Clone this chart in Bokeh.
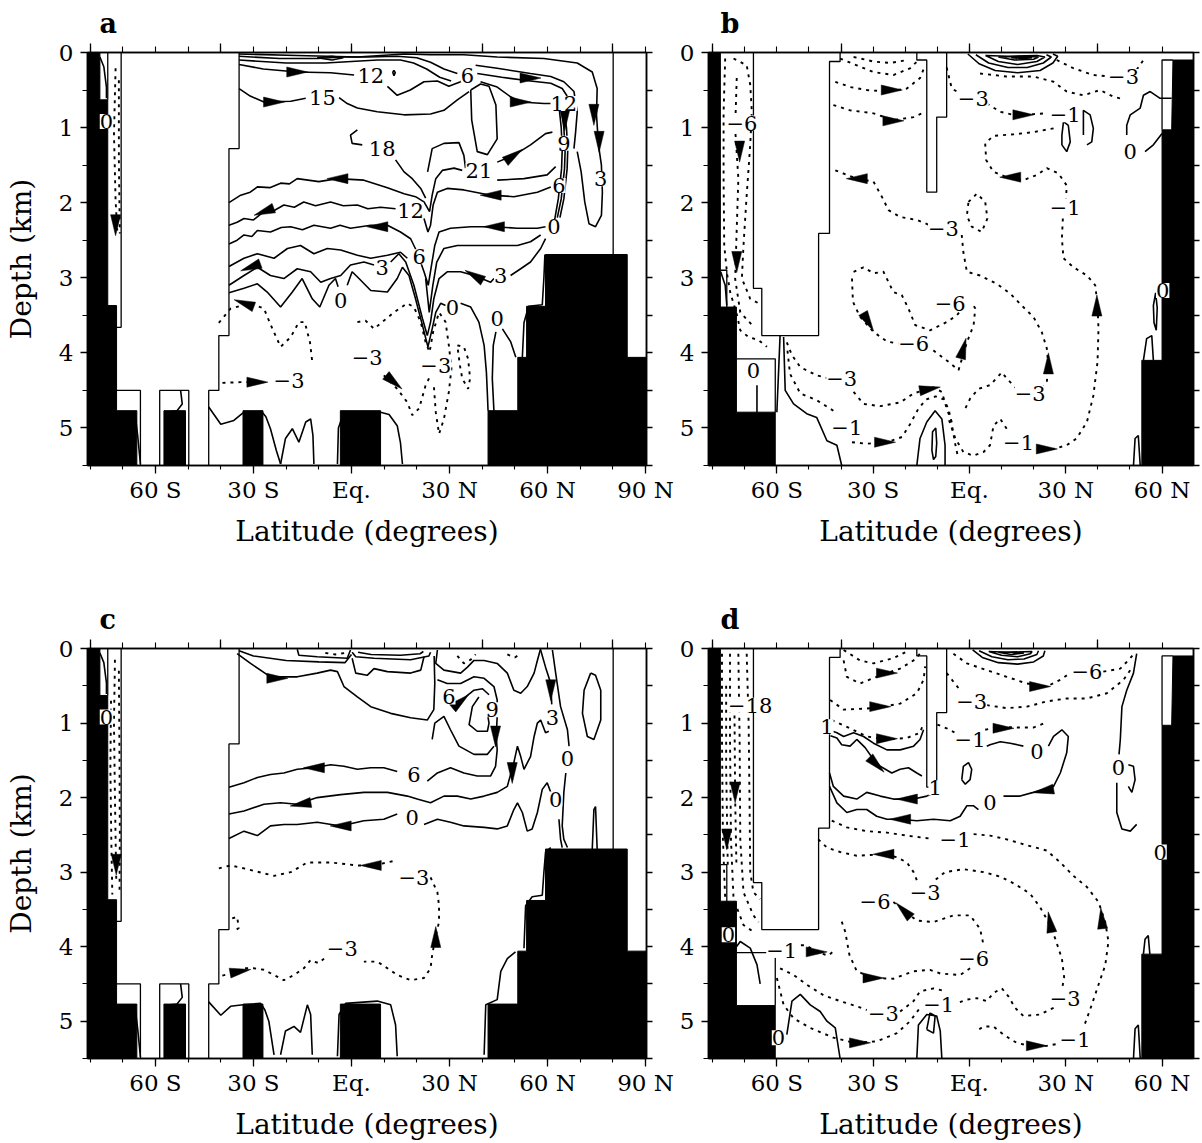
import math
from bokeh.plotting import figure
from bokeh.models import Range1d, LinearAxis, FixedTicker, ColumnDataSource, LabelSet
from bokeh.layouts import column, row
from bokeh.embed import file_html
from bokeh.resources import INLINE
from bokeh.core.properties import value

FONT = "DejaVu Serif"

# ---------------- axes ----------------
DEPTH_TICKS = [0, 1, 2, 3, 4, 5]
DEPTH_MINOR = [0.5, 1.5, 2.5, 3.5, 4.5, 5.5]
DEPTH_RIGHT = [0, 0.5, 1, 1.5, 2, 2.5, 3, 3.5, 4, 4.5, 5, 5.5]
LAT_TICKS_AC = [-60, -30, 0, 30, 60, 90]
LAT_LABELS_AC = ["60 S", "30 S", "Eq.", "30 N", "60 N", "90 N"]
LAT_TICKS_BD = [-60, -30, 0, 30, 60]
LAT_LABELS_BD = ["60 S", "30 S", "Eq.", "30 N", "60 N"]
TOP_TICKS = [-80, -40, 0, 40, 80]
LAT_MINOR = list(range(-80, 91, 10))
LAT_RANGE_AC = (-80.8, 90.3)
LAT_RANGE_BD = (-81.3, 69.8)

# ---------------- basin geometry (lat, depth km) ----------------
ATL_LAND = [
    [(-80.8, 0), (-77.0, 0), (-77.0, 0.63), (-74.6, 0.63), (-74.6, 3.37), (-71.9, 3.37), (-71.9, 4.77),
     (-65.7, 4.77), (-65.7, 5.5), (-80.8, 5.5)],
    [(-57.4, 4.77), (-50.8, 4.77), (-50.8, 5.5), (-57.4, 5.5)],
    [(-33.2, 4.77), (-27.1, 4.77), (-27.1, 5.5), (-33.2, 5.5)],
    [(-3.4, 4.77), (8.9, 4.77), (8.9, 5.5), (-3.4, 5.5)],
    [(41.8, 5.5), (41.8, 4.77), (50.9, 4.77), (50.9, 4.06), (53.6, 4.06), (53.6, 3.38), (59.4, 3.38),
     (59.4, 2.69), (84.4, 2.69), (84.4, 4.06), (90.3, 4.06), (90.3, 5.5)],
]
ATL_EDGES = [
    [(-74.6, 0), (-74.6, 0.63)],
    [(-70.5, 0), (-70.5, 3.66), (-71.9, 3.66)],
    [(-34.4, 0), (-34.4, 1.28), (-37.5, 1.28), (-37.5, 3.77), (-40.6, 3.77), (-40.6, 4.5), (-43.7, 4.5), (-43.7, 5.5)],
    [(-71.9, 4.5), (-64.6, 4.5), (-64.6, 5.5)],
    [(-58.7, 5.5), (-58.7, 4.5), (-49.8, 4.5), (-49.8, 5.5)],
    [(80.1, 0), (80.1, 2.69)],
]
PAC_LAND = [
    [(-81.3, 0), (-77.6, 0), (-77.6, 3.39), (-72.6, 3.39), (-72.6, 4.79), (-60.5, 4.79), (-60.5, 5.5), (-81.3, 5.5)],
    [(63.4, 0.1), (69.8, 0.1), (69.8, 5.5), (53.7, 5.5), (53.7, 4.1), (60.0, 4.1), (60.0, 1.03), (63.0, 1.03)],
]
PAC_EDGES = [
    [(-77.6, 2.9), (-75.6, 2.9), (-75.6, 3.39)],
    [(-67.3, 0), (-67.3, 3.14), (-64.7, 3.14), (-64.7, 3.77), (-47.0, 3.77), (-47.0, 2.41), (-43.6, 2.41),
     (-43.6, 0.12), (-40.3, 0.12), (-40.3, 0)],
    [(-72.6, 4.08), (-60.5, 4.08), (-60.5, 4.79)],
    [(-16.4, 0), (-16.4, 0.1), (-13.3, 0.1), (-13.3, 1.86), (-10.2, 1.86), (-10.2, 0.86), (-7.1, 0.86), (-7.1, 0)],
    [(60.0, 1.03), (60.0, 0.1), (63.4, 0.1)],
]

# ---------------- panel a : streamfunction contours (Sv) ----------------
A_SOLID = [
    [(-34.4, 0.02), (-16.6, 0.04), (1.8, 0.06), (16.1, 0.02), (24.2, 0.03), (34.4, 0.03), (44.6, 0.06), (58.9, 0.08),
     (69.1, 0.14), (73.7, 0.26), (75.2, 0.48), (75.0, 0.83), (75.6, 1.23), (76.5, 1.5), (76.8, 1.86), (76.5, 2.17),
     (74.7, 2.32), (72.7, 2.28), (71.4, 1.99), (70.3, 1.59), (69.1, 1.32)],
    [(-34.4, 0.05), (-22, 0.08), (-10.5, 0.08), (-3, 0.06), (5, 0.06), (14, 0.05), (20, 0.07), (24.2, 0.13),
     (28.3, 0.22), (32.4, 0.28)],
    [(38.0, 0.17), (44.6, 0.21), (54.8, 0.28), (61, 0.32), (65, 0.39), (68.1, 0.52), (69.1, 0.79), (68.6, 1.06),
     (68.1, 1.28)],
    [(-34.4, 0.1), (-20, 0.14), (-8, 0.14), (0, 0.12), (8, 0.1), (15, 0.1), (19, 0.14), (23, 0.22), (27, 0.33),
     (30.5, 0.38)],
    [(38.5, 0.28), (46, 0.33), (54.8, 0.38), (61, 0.41), (64.5, 0.48), (66, 0.58)],
    [(-34.4, 0.16), (-27, 0.22), (-16.6, 0.26), (-6.4, 0.27), (0.8, 0.3)],
    [(11, 0.45), (14, 0.57), (18, 0.5), (22.2, 0.39), (26.3, 0.38), (29.8, 0.45), (33.4, 0.39), (36, 0.32)],
    [(39.5, 0.39), (44.6, 0.46), (48.7, 0.59), (51.8, 0.66), (58.9, 0.68), (62, 0.68)],
    [(-34.4, 0.48), (-31, 0.58), (-26.8, 0.66), (-18.6, 0.65), (-14, 0.61)],
    [(-3.8, 0.6), (-1.3, 0.68), (1.8, 0.74), (7.9, 0.79), (16.1, 0.83), (24.2, 0.82), (28.3, 0.77), (32.4, 0.63),
     (36, 0.52)],
    [(36.5, 0.5), (36.8, 0.9), (38.5, 1.32), (41.6, 1.36), (44.6, 1.15), (44.2, 0.7), (42.1, 0.45), (39.5, 0.42),
     (36.5, 0.5)],
    [(1.8, 1.03), (-0.3, 1.1), (0.2, 1.21), (3.3, 1.23)],
    [(13.5, 1.43), (16.1, 1.59), (18.6, 1.68), (21.2, 1.81), (22.7, 1.94)],
    [(23.3, 1.59), (24.7, 1.28), (28.3, 1.21), (32.9, 1.2), (34.4, 1.37), (34.9, 1.54)],
    [(-37.5, 2.0), (-33.9, 1.9), (-31, 1.86), (-28.8, 1.79), (-25, 1.8), (-21.7, 1.74), (-19, 1.75), (-16.6, 1.68),
     (-10, 1.72), (-4.3, 1.68), (3.8, 1.7), (11, 1.8), (16.1, 1.88), (19.6, 1.92), (22.2, 1.99), (23.9, 2.12),
     (24.7, 1.9), (25.8, 1.68), (27.8, 1.57), (31.4, 1.54), (33.9, 1.57)],
    [(44.6, 1.7), (52.8, 1.68), (59.9, 1.63), (62.5, 1.52)],
    [(44.6, 1.46), (49.7, 1.37), (54.8, 1.23), (59.4, 1.08), (61.5, 1.06)],
    [(-37.5, 2.3), (-35, 2.26), (-32.9, 2.21), (-30, 2.23), (-26.8, 2.12), (-23.5, 2.1), (-20.7, 2.03), (-17.5, 2.06),
     (-14.6, 1.99), (-11, 2.04), (-6.4, 1.99), (-2.5, 2.04), (1.8, 2.03), (5, 2.08), (8.9, 2.06), (13.5, 2.08)],
    [(22.2, 2.21), (23.4, 2.39), (24.2, 2.3), (25, 2.03), (26.3, 1.86), (29.3, 1.81), (34.4, 1.83), (42.6, 1.9),
     (49.7, 1.92), (56.9, 1.86), (61, 1.79)],
    [(-37.5, 2.55), (-35, 2.5), (-32.9, 2.43), (-30.5, 2.45), (-28.8, 2.37), (-24.8, 2.39), (-21.5, 2.33),
     (-18.6, 2.32), (-15, 2.36), (-11.5, 2.3), (-6.4, 2.34), (-3.5, 2.3), (-0.3, 2.34), (5.9, 2.3), (11, 2.3),
     (15, 2.39), (18.1, 2.48), (20.1, 2.66), (22.2, 2.92), (23.5, 3.1), (24.5, 2.83), (25.5, 2.57), (26.8, 2.39),
     (30.3, 2.34), (36.5, 2.32), (43.6, 2.32), (50.8, 2.34), (56.9, 2.34), (59.4, 2.32)],
    [(-37.5, 2.85), (-32.9, 2.74), (-28.8, 2.68), (-23.7, 2.74), (-19.6, 2.61), (-15.6, 2.57), (-11.5, 2.68),
     (-7.4, 2.61), (-3.3, 2.63), (1.8, 2.7), (5.9, 2.74), (11, 2.7), (15, 2.66), (17.1, 2.74)],
    [(22.7, 3.01), (23.8, 3.46), (24.9, 3.1), (26.1, 2.79), (28.3, 2.61), (32.4, 2.57), (37.5, 2.57), (44.6, 2.57),
     (50.8, 2.57), (54.8, 2.52), (57.9, 2.43)],
    [(-37.5, 3.1), (-32.9, 2.97), (-28.8, 2.86), (-24.8, 2.97), (-20.7, 3.01), (-16.6, 2.88), (-12.5, 2.92),
     (-9.4, 3.06), (-6.4, 3.01), (-3.3, 2.97), (-0.3, 2.83), (3.8, 2.79), (6.9, 2.83)],
    [(12, 2.79), (14.5, 2.68), (16.6, 2.79), (19.1, 3.1), (21.7, 3.54), (23.2, 3.77), (24.2, 3.59), (25.2, 3.28),
     (26.8, 3.01), (29.3, 2.92), (33.4, 2.92), (37.5, 2.97), (42.6, 3.06), (43.6, 3.01)],
    [(48.7, 2.97), (51.8, 2.88), (54.8, 2.79), (57.9, 2.61), (59.4, 2.48)],
    [(-37.5, 3.2), (-32.9, 3.14), (-28.8, 3.08), (-25.8, 3.19), (-21.7, 3.39), (-18.1, 3.19), (-15.1, 3.01),
     (-12, 3.28), (-9.7, 3.39), (-6.9, 3.1), (-4.9, 3.01), (-4.1, 3.12)],
    [(-1.3, 3.1), (0.2, 2.92), (2.3, 3.01), (5.9, 3.17), (11, 3.19), (14, 3.01), (15.6, 2.86), (17.6, 2.97),
     (19.6, 3.28), (21.7, 3.63), (23.4, 3.92), (24.7, 3.68), (25.8, 3.46), (27.3, 3.34), (28.8, 3.37)],
    [(33.4, 3.34), (36.5, 3.39), (39, 3.59), (40.6, 3.9), (41.3, 4.26), (41.6, 4.55), (41.8, 4.77)],
    [(43.6, 4.77), (43.1, 4.34), (43.4, 3.9), (44.2, 3.72)],
    [(46.2, 3.68), (48.7, 3.85), (50.3, 4.06)],
    [(52.3, 4.06), (52.8, 3.6), (54.2, 3.38), (58.4, 3.36), (58.9, 3.0), (59.2, 2.69)],
    [(63.6, 0.75), (64.2, 1.0), (64.5, 1.3), (64.3, 1.55), (63.3, 1.95), (62.3, 2.2), (61.5, 2.35)],
    [(64.3, 0.75), (65.0, 1.0), (65.4, 1.3), (65.2, 1.55), (64.2, 1.95), (63.0, 2.2)],
    [(65.0, 0.75), (65.8, 1.0), (66.2, 1.3), (66.0, 1.55), (65.0, 1.95), (63.8, 2.2)],
    [(-10.5, 0.07), (-6, 0.05), (-2.5, 0.07), (-6, 0.1), (-10.5, 0.07)],
    [(12.6, 0.26), (13.0, 0.24), (13.4, 0.27), (13.0, 0.31), (12.6, 0.26)],
    [(-77.0, 0.06), (-75.8, 0.19), (-75.0, 0.46), (-75.0, 0.61)],
    [(-66.1, 4.86), (-65.4, 5.12), (-64.6, 5.48)],
    [(-52.3, 4.5), (-51.8, 4.68), (-53.4, 4.77), (-57.4, 4.79)],
    [(-43.7, 4.72), (-40, 4.95), (-36, 4.9), (-33.2, 4.8), (-27.5, 4.78), (-26.2, 4.85), (-24.8, 5.01), (-23, 5.3),
     (-21.7, 5.48)],
    [(-21.7, 5.48), (-20.2, 5.14), (-18.1, 5.01), (-16.1, 5.19), (-14, 4.92), (-12.5, 4.88), (-11.8, 5.1),
     (-11.5, 5.48)],
    [(-4.3, 5.48), (-4.0, 5.0), (-2.3, 4.79), (8.9, 4.79), (11.5, 4.82), (14, 4.97), (15, 5.2), (15.6, 5.48)],
]
A_DOTTED = [
    [(-72.2, 0.21), (-72.7, 1.08), (-72.2, 1.97), (-71.7, 2.37)],
    [(-71.2, 0.37), (-71.2, 1.43), (-70.9, 2.41)],
    [(-40.6, 3.6), (-37, 3.41), (-30.9, 3.34), (-26.8, 3.41), (-24.2, 3.68), (-21.7, 3.92), (-18.6, 3.79),
     (-16.1, 3.59), (-14.3, 3.59), (-12.7, 3.86), (-12, 4.12)],
    [(1.8, 3.59), (4.3, 3.57), (6.9, 3.68), (9.4, 3.59), (13, 3.46), (17.1, 3.34), (19.1, 3.39), (21.2, 3.59),
     (22.7, 3.86), (23.9, 3.99), (25, 3.72), (26.8, 3.46), (28.8, 3.59), (29.8, 3.9), (30.6, 4.21), (29.8, 4.52),
     (28.3, 4.88), (26.8, 5.08), (25.8, 4.79), (25.2, 4.43)],
    [(-39.5, 4.4), (-34, 4.39), (-27.2, 4.39)],
    [(9.9, 4.3), (14, 4.48), (17.1, 4.66), (18.6, 4.83), (20.7, 4.74), (22.7, 4.43), (24.2, 4.3)],
    [(32.4, 3.9), (34.4, 3.92), (35.7, 4.08), (36.3, 4.34), (35.7, 4.48), (33.9, 4.34), (33.2, 4.17), (32.4, 3.9)],
]
A_LABELS = [
    ("12", 5.9, 0.3), ("15", -8.9, 0.6), ("18", 9.4, 1.28), ("21", 39, 1.57), ("6", 35.5, 0.3), ("12", 65, 0.68),
    ("9", 65, 1.21), ("6", 63.5, 1.77), ("0", 62, 2.32), ("3", 76.3, 1.68), ("12", 18.1, 2.1), ("6", 20.7, 2.72),
    ("3", 9.4, 2.86), ("3", 45.7, 2.97), ("0", -3.3, 3.3), ("0", 30.9, 3.39), ("0", 44.6, 3.54),
    ("\u22123", 4.8, 4.06), ("\u22123", 25.8, 4.17), ("\u22123", -19.1, 4.37), ("0", -75.0, 0.92),
]
A_ARROWS = [  # lat, depth, heading (deg, 0 = northward/right, 90 = upward)
    (-16.6, 0.26, 0), (-23.7, 0.66, 0), (54.8, 0.34, 0), (51.8, 0.66, 0), (65.3, 0.9, 270), (74.2, 0.83, 270),
    (75.8, 1.19, 270), (49.7, 1.37, 35), (-4.3, 1.68, 180), (-26.8, 2.12, 200), (7.9, 2.32, 180),
    (42.6, 1.9, 180), (43.6, 2.32, 180), (-30.9, 2.86, 200), (37.5, 2.97, 150), (-32.9, 3.34, 160),
    (-28.8, 4.39, 0), (13, 4.39, 320), (-72.2, 2.3, 270),
]

# ---------------- panel b ----------------
B_SOLID = [
    [(-0.5, 0.02), (3, 0.15), (8, 0.24), (15, 0.27), (22, 0.24), (26, 0.14), (27.5, 0.05), (26, 0.02)],
    [(2, 0.03), (6, 0.14), (12, 0.2), (18, 0.2), (23, 0.14), (25.5, 0.06), (24, 0.03)],
    [(5, 0.04), (9, 0.12), (15, 0.16), (21, 0.12), (23.5, 0.06), (21, 0.04), (12, 0.05), (5, 0.04)],
    [(9, 0.06), (14, 0.1), (20, 0.09), (21.5, 0.06), (17, 0.05), (9, 0.06)],
    [(13, 0.07), (17, 0.08), (19.5, 0.07), (16, 0.065), (13, 0.07)],
    [(-57.9, 3.79), (-57.4, 4.5), (-54.8, 4.68), (-50.7, 4.81), (-47.6, 4.86), (-44.4, 5.17), (-41.3, 5.23),
     (-39.8, 5.5)],
    [(-59.0, 3.77), (-60.0, 4.79)],
    [(-16.4, 5.5), (-15.4, 5.14), (-13.3, 4.92), (-10.7, 4.77), (-8.6, 4.88), (-7.6, 5.23), (-7.6, 5.5)],
    [(-11.7, 5.3), (-11.5, 5.05), (-10.5, 5.0), (-10.2, 5.2), (-10.5, 5.38), (-11.2, 5.42), (-11.7, 5.3)],
    [(63.0, 0.61), (59.4, 0.61), (56.3, 0.52), (54.2, 0.57), (53.2, 0.74), (50.1, 0.83), (49.0, 0.97), (49.0, 1.1)],
    [(54.7, 1.32), (57.3, 1.23), (60.0, 1.08)],
    [(28.8, 1.1), (29.3, 0.92), (30.8, 0.97), (31.4, 1.19), (30.3, 1.32), (28.8, 1.23), (28.8, 1.1)],
    [(35.5, 1.1), (35.5, 0.77), (37.6, 0.83), (38.6, 1.01), (38.1, 1.19), (36.6, 1.23)],
    [(57.3, 3.37), (57.5, 3.6), (58.2, 3.7), (58.5, 3.4), (58.0, 3.2), (57.3, 3.37)],
    [(54.2, 4.1), (55.2, 3.81), (56.8, 3.77), (57.3, 4.1)],
    [(51.1, 5.5), (51.6, 5.14), (52.6, 5.1), (53.2, 5.5)],
    [(-66.2, 4.43), (-66.2, 4.79)],
    [(-77.5, 2.92), (-76.1, 3.1), (-75.6, 3.37)],
]
B_DOTTED = [
    [(-76.1, 0.08), (-76.6, 0.79), (-76.6, 1.68), (-76.4, 2.57), (-75.5, 2.95), (-74.5, 3.2), (-72.4, 3.5),
     (-71.4, 3.7), (-68.8, 3.79), (-65.7, 3.83), (-63.1, 3.92)],
    [(-73.5, 0.08), (-69.4, 0.17), (-68.3, 0.43), (-67.8, 0.79), (-68.3, 1.23), (-69.4, 1.9), (-70.4, 2.57),
     (-70.9, 3.01), (-68.3, 3.28), (-65.7, 3.34)],
    [(-72.5, 0.34), (-73, 1.01), (-72, 1.68), (-72.5, 2.34), (-73, 3.01), (-71.4, 3.46), (-67.3, 3.65)],
    [(-41.8, 0.39), (-37.2, 0.46), (-32, 0.5), (-25.7, 0.52), (-19.5, 0.48), (-15.4, 0.34), (-13.8, 0.17)],
    [(-42.4, 0.7), (-37.2, 0.77), (-29.9, 0.81), (-23.7, 0.9), (-17.4, 0.86), (-13.8, 0.79)],
    [(-40.3, 0.08), (-35.1, 0.17), (-29.9, 0.26), (-23.7, 0.3), (-18.5, 0.21), (-15.4, 0.08)],
    [(-36.1, 0.06), (-29.9, 0.12), (-24.7, 0.14), (-19.5, 0.1)],
    [(3.3, 0.28), (11.6, 0.32), (19.9, 0.32), (26.2, 0.39), (30.3, 0.52), (35.5, 0.57), (40.7, 0.5), (44.9, 0.59),
     (46.9, 0.61)],
    [(27.2, 0.1), (32.4, 0.21), (38.6, 0.3), (43.8, 0.32)],
    [(52.1, 0.23), (54.2, 0.1)],
    [(-7.1, 0.2), (-5.5, 0.48), (-1.9, 0.57)],
    [(5.4, 0.68), (9.6, 0.79), (14.7, 0.84), (19.9, 0.82), (24.1, 0.81)],
    [(26.2, 1.01), (19.9, 1.06), (13.7, 1.09), (7.5, 1.11), (4.9, 1.21), (5.2, 1.43), (7.5, 1.59), (11.6, 1.66),
     (16.8, 1.7), (21, 1.63), (24.1, 1.54), (27.7, 1.61), (30.3, 1.77), (30.1, 1.94)],
    [(29.1, 2.21), (28.8, 2.48), (29.3, 2.74), (32.4, 2.86), (36.6, 2.97), (39.2, 3.1), (39.9, 3.37), (40.2, 3.68),
     (39.9, 4.12), (38.6, 4.57), (36.6, 4.92), (33.4, 5.14), (30.3, 5.23), (26.2, 5.28), (21, 5.28)],
    [(11.6, 5.01), (9.6, 4.88), (7.5, 4.97), (6.4, 5.23), (4.4, 5.32), (1.2, 5.37), (-1.9, 5.32), (-4.4, 5.14),
     (-6.5, 4.88)],
    [(-41.8, 1.57), (-35.1, 1.68), (-29.9, 1.72), (-27.3, 1.92), (-25.2, 2.1), (-21.6, 2.19), (-16.4, 2.23),
     (-12.3, 2.3)],
    [(-2.4, 2.43), (-1.9, 2.66), (-0.8, 2.92), (3.3, 2.97), (8.5, 3.08), (12.7, 3.21), (16.3, 3.37), (19.9, 3.52),
     (22.5, 3.72), (24.1, 3.94), (24.6, 4.17), (24.1, 4.39), (22, 4.52)],
    [(14.7, 4.48), (11.6, 4.34), (10.1, 4.26), (6.4, 4.43), (2.8, 4.48), (0.2, 4.61), (-1.3, 4.74)],
    [(-0.3, 1.99), (2.3, 1.88), (4.9, 1.99), (5.6, 2.21), (3.8, 2.39), (0.7, 2.32), (-0.8, 2.17), (-0.3, 1.99)],
    [(-36.6, 3.01), (-36.3, 3.32), (-34.1, 3.52), (-29.9, 3.72), (-25.7, 3.85), (-21.5, 3.88)],
    [(-13.5, 3.92), (-11.2, 3.97), (-6.5, 4.12), (-3.4, 4.23), (-0.8, 3.86), (1.3, 3.63), (1.8, 3.41), (0.7, 3.32)],
    [(-36.1, 2.92), (-33, 2.86), (-29.9, 2.94), (-26.8, 2.92), (-23.7, 3.19), (-21.1, 3.23), (-19, 3.41),
     (-16.9, 3.63), (-12.3, 3.7), (-7.1, 3.59), (-3.9, 3.5), (-2.5, 3.42)],
    [(-56.9, 3.86), (-55.3, 4.03), (-52.7, 4.19), (-47.6, 4.3), (-43.9, 4.34)],
    [(-36.1, 4.52), (-33, 4.68), (-27.8, 4.71), (-21.6, 4.66), (-17.4, 4.54), (-11.2, 4.46), (-8.6, 4.52),
     (-7.1, 4.74), (-5.5, 4.92)],
    [(-36.6, 5.19), (-32, 5.21), (-25.7, 5.19), (-21, 5.12), (-18.5, 4.95), (-16, 4.75), (-13.5, 4.62),
     (-10.5, 4.58), (-8, 4.62), (-6.5, 4.75), (-5.5, 4.95), (-4.5, 5.2), (-3.5, 5.4)],
    [(-56.7, 3.97), (-55.9, 4.28), (-52.7, 4.54), (-47.6, 4.63), (-42.4, 4.77)],
]
B_LABELS = [
    ("\u22126", -70.9, 0.94), ("\u22123", 1.2, 0.61), ("\u22123", 48, 0.32), ("\u22121", 29.8, 0.83),
    ("0", 50.1, 1.32), ("\u22121", 29.8, 2.06), ("\u22123", -8.1, 2.34), ("\u22126", -6, 3.34),
    ("\u22126", -17.4, 3.88), ("0", 60.2, 3.17), ("0", -67.3, 4.23), ("\u22123", -39.8, 4.34),
    ("\u22123", 18.9, 4.54), ("\u22121", -38.2, 4.99), ("\u22121", 15.3, 5.19),
]
B_ARROWS = [
    (-71.6, 1.32, 270), (-72.5, 2.79, 270), (-24.2, 0.5, 0), (-23.7, 0.91, 0), (-35.1, 1.68, 180),
    (16.8, 0.83, 0), (12.7, 1.66, 180), (-31.5, 3.59, 300), (-1.9, 3.94, 75), (24.6, 4.14, 90),
    (39.7, 3.37, 90), (-12.3, 4.48, 10), (-26.3, 5.19, 0), (24.1, 5.28, 0),
]

# ---------------- panel c ----------------
C_SOLID = [
    [(-35, 0.07), (-30.9, 0.2), (-24.8, 0.38), (-16.6, 0.38), (-10.5, 0.33), (-6.4, 0.29), (-4.3, 0.31),
     (-2.3, 0.51), (1.8, 0.65), (5.9, 0.78), (12, 0.87), (18.1, 0.93), (23.2, 0.96), (25.2, 0.82), (25.5, 0.47),
     (25.3, 0.1)],
    [(-34.4, 0.03), (-30, 0.1), (-20, 0.16), (-10, 0.18), (-2, 0.19), (0, 0.08)],
    [(-16.6, 0.01), (-16.1, 0.09), (-10.5, 0.11), (-1.3, 0.13), (-0.3, 0.02)],
    [(0.2, 0.05), (1.3, 0.11), (6.9, 0.13), (18.1, 0.15), (23.7, 0.1), (24.2, 0.05)],
    [(0.2, 0.13), (1.3, 0.33), (4.8, 0.36), (6.9, 0.27), (11, 0.31), (18.1, 0.33), (21.2, 0.29), (22.2, 0.11)],
    [(2, 0.05), (6, 0.08), (15, 0.09), (21, 0.07), (22, 0.04)],
    [(26.3, 0.02), (25.8, 0.2), (28.3, 0.29), (33.4, 0.33), (35.5, 0.25), (37.5, 0.16), (40.6, 0.16), (44.6, 0.2),
     (47.7, 0.33), (49.7, 0.56), (51.8, 0.6), (53.8, 0.51), (55.9, 0.33), (56.9, 0.16), (57.9, 0.0)],
    [(-37.5, 1.86), (-32.9, 1.8), (-28.8, 1.73), (-24.8, 1.69), (-20.7, 1.67), (-16.6, 1.62), (-11.5, 1.6),
     (-6.4, 1.56), (-2.3, 1.58), (1.8, 1.62), (5.9, 1.6), (9.9, 1.6), (14, 1.65)],
    [(23.2, 1.78), (26.3, 1.67), (30.3, 1.6), (34.4, 1.67), (38.5, 1.71), (42.6, 1.71), (44.1, 1.58), (44.6, 1.36),
     (44.3, 1.18), (44.6, 0.91), (44.6, 0.69), (43.6, 0.51), (40.6, 0.4), (37.5, 0.38), (33.4, 0.47), (29.3, 0.47),
     (26.3, 0.42)],
    [(31.4, 0.78), (33.4, 0.71), (35.5, 0.63), (37.5, 0.56), (40.1, 0.54), (42.1, 0.62)],
    [(24.7, 1.22), (25.5, 1.0), (28.3, 0.91), (30.3, 1.09), (32.9, 1.31), (37.5, 1.42), (41.6, 1.42), (43.6, 1.31)],
    [(39.0, 0.65), (37.0, 0.78), (36.0, 1.02), (38.5, 1.11), (41.6, 1.11), (42.1, 1.0), (41.6, 0.87)],
    [(-37.5, 2.22), (-32.9, 2.18), (-26.8, 2.09), (-21.7, 2.07), (-16.6, 2.09), (-10.5, 2.0), (-3.3, 1.96),
     (3.8, 1.93), (11, 1.93), (17.1, 1.98), (20.1, 2.02), (24.2, 2.07), (28.3, 1.98), (32.4, 1.98), (36.5, 2.02),
     (40.6, 1.98), (44.6, 1.93), (47.7, 1.85), (49.7, 1.53), (50.8, 1.31), (51.8, 1.45), (52.8, 1.62),
     (54.8, 1.45), (55.9, 1.18), (56.9, 1.0), (57.9, 0.96), (59.4, 1.13), (60.4, 1.11)],
    [(61.3, 0.75), (61, 0.47), (59.4, 0.25), (57.9, 0.02)],
    [(-37.5, 2.55), (-32.9, 2.45), (-28.8, 2.51), (-24.8, 2.38), (-20.7, 2.36), (-16.6, 2.36), (-10.5, 2.33),
     (-3.3, 2.38), (3.8, 2.31), (9.9, 2.29), (14, 2.22)],
    [(22.2, 2.36), (26.3, 2.29), (30.3, 2.33), (34.4, 2.38), (40.6, 2.4), (44.6, 2.42), (47.7, 2.38), (49.7, 2.16),
     (50.8, 2.07), (52.3, 2.2), (53.8, 2.45), (55.3, 2.42), (56.9, 2.2), (58.4, 1.89), (59.9, 1.8), (61, 1.93)],
    [(63.5, 2.29), (64, 2.56), (64.5, 2.67)],
    [(61.5, 0.02), (62.5, 0.33), (64, 0.78), (66.1, 1.09), (66.6, 1.31)],
    [(65.6, 1.67), (65, 1.93), (64.5, 2.38), (65, 2.56), (66.1, 2.67)],
    [(73.2, 0.33), (71.2, 0.56), (70.7, 0.87), (72.2, 1.18), (74.2, 1.22), (76.3, 0.96), (76.3, 0.56), (74.7, 0.36),
     (73.2, 0.33)],
    [(73.7, 2.69), (74.2, 2.16), (74.7, 2.12), (75.2, 2.69)],
    [(40.6, 5.45), (41.1, 4.78), (44.6, 4.71), (45.7, 4.33), (47.7, 4.16), (50.2, 4.07)],
    [(52.8, 4.02), (53.3, 3.45), (55.3, 3.33), (58.4, 3.31), (58.9, 3.0), (59.4, 2.73), (61, 2.67)],
    [(-77.0, 0.06), (-75.8, 0.19), (-75.0, 0.46), (-75.0, 0.61)],
    [(-66.1, 4.86), (-65.4, 5.12), (-64.6, 5.48)],
    [(-52.3, 4.5), (-51.8, 4.68), (-53.4, 4.77), (-57.4, 4.79)],
    [(-43.7, 4.74), (-40, 4.92), (-37, 4.8), (-33.2, 4.78), (-27.8, 4.76), (-26.5, 4.85), (-25.3, 5.0),
     (-23.7, 5.45)],
    [(-21.7, 5.45), (-20.2, 5.13), (-17.6, 5.07), (-15.6, 5.15), (-13.5, 4.78), (-12.5, 4.91), (-12, 5.45)],
    [(-4.3, 5.47), (-3.8, 4.91), (-1.8, 4.76), (7.9, 4.73), (12, 4.78), (13.5, 5.05), (14, 5.47)],
]
C_DOTTED = [
    [(-72.4, 0.15), (-72.7, 1.0), (-72.4, 2.0), (-72.0, 3.1)],
    [(-71.2, 0.3), (-71.0, 1.5), (-70.9, 2.5), (-71.0, 3.3)],
    [(-73.6, 0.7), (-73.8, 1.6), (-73.5, 2.6), (-73.2, 3.3)],
    [(-40.6, 2.95), (-37, 2.91), (-31.9, 2.96), (-23.7, 3.05), (-18.6, 3.0), (-13.5, 2.87), (-6.4, 2.87),
     (1.8, 2.91), (6.9, 2.91), (13, 2.85)],
    [(24.2, 3.07), (26.3, 3.27), (26.8, 3.45), (26.8, 3.67), (25.8, 3.85), (24.7, 4.11), (24.2, 4.29), (22.2, 4.42),
     (18.1, 4.45), (14, 4.38), (11, 4.29), (7.9, 4.2), (3.8, 4.2)],
    [(-8.4, 4.16), (-10, 4.22), (-11.5, 4.2), (-12.5, 4.18), (-14.6, 4.29), (-17.6, 4.38), (-20.7, 4.45),
     (-23.7, 4.38), (-26.8, 4.31), (-29.9, 4.29), (-32.9, 4.29), (-37, 4.36), (-40.6, 4.4)],
    [(-36.5, 3.62), (-35, 3.6), (-34.5, 3.75), (-36, 3.8)],
    [(32.4, 0.1), (34.4, 0.2), (36.5, 0.15), (38, 0.08)],
    [(47.7, 0.08), (50, 0.12), (51.5, 0.08)],
    [(-8, 0.06), (-5, 0.08), (-2, 0.06)],
]
C_LABELS = [
    ("6", 29.8, 0.65), ("9", 43.1, 0.82), ("3", 61.5, 0.93), ("0", 66.1, 1.47), ("6", 19.1, 1.69),
    ("0", 62.5, 2.02), ("0", 18.6, 2.27), ("\u22123", 19.1, 3.07), ("\u22123", -2.8, 4.02), ("0", -75.0, 0.92),
]
C_ARROWS = [
    (-22.7, 0.4, 0), (33.4, 0.71, 40), (61, 0.56, 270), (44.1, 1.18, 270), (49.2, 1.67, 270),
    (-11.5, 1.6, 180), (-15.6, 2.09, 190), (-3.3, 2.38, 180), (5.9, 2.91, 180), (25.8, 3.87, 90),
    (-34, 4.33, 10), (-72.0, 2.9, 270),
]

# ---------------- panel d ----------------
D_SOLID = [
    [(1, 0.02), (4, 0.12), (9, 0.19), (15, 0.21), (20, 0.18), (23, 0.1), (23.5, 0.03)],
    [(3, 0.03), (7, 0.11), (12, 0.15), (17, 0.14), (21, 0.08), (21.5, 0.03)],
    [(6, 0.04), (10, 0.09), (15, 0.11), (19, 0.07), (19.5, 0.04), (12, 0.05), (6, 0.04)],
    [(9, 0.05), (13, 0.08), (17, 0.06), (13, 0.05), (9, 0.05)],
    [(-43.3, 1.1), (-41.3, 1.13), (-39.2, 1.18), (-36.1, 1.13), (-33, 1.18), (-29.9, 1.27), (-25.7, 1.36),
     (-21.6, 1.36), (-17.4, 1.31), (-15.4, 1.22), (-14.3, 1.09)],
    [(-43.3, 1.17), (-41.3, 1.2), (-39.8, 1.29), (-37.2, 1.31), (-35.1, 1.22), (-32.5, 1.33), (-29.9, 1.49),
     (-27.8, 1.58), (-24.2, 1.67), (-21.6, 1.62), (-19, 1.6), (-16.4, 1.67), (-14.8, 1.71)],
    [(-43.6, 1.67), (-42.4, 1.85), (-39.2, 1.98), (-35.1, 2.02), (-32, 1.93), (-27.8, 1.98), (-23.7, 2.02),
     (-17.4, 2.02), (-13.3, 1.98), (-11.5, 1.95)],
    [(-43.6, 1.85), (-41.3, 2.07), (-38.2, 2.2), (-35.1, 2.16), (-32, 2.16), (-28.9, 2.25), (-25.7, 2.29),
     (-21.6, 2.29), (-16.4, 2.31), (-11.2, 2.29), (-6, 2.31), (-2.9, 2.25), (-0.8, 2.11), (1.3, 2.11), (2.8, 2.16)],
    [(10.6, 1.98), (15.8, 1.98), (19.9, 1.93), (26.2, 1.85), (28.3, 1.67), (30.3, 1.4), (30.8, 1.18), (28.8, 1.09),
     (26.2, 1.18), (24.6, 1.31)],
    [(16.8, 1.31), (12.7, 1.27), (9.6, 1.25), (6.4, 1.29), (5.4, 1.31)],
    [(-2.4, 1.76), (-1.9, 1.58), (-0.3, 1.53), (0.7, 1.62), (0.2, 1.76), (-1.3, 1.82), (-2.4, 1.76)],
    [(52.1, 0.07), (51.1, 0.33), (49, 0.56), (47.5, 0.78), (47, 1.22), (46.6, 1.42)],
    [(45.9, 1.8), (45.9, 2.2), (47.5, 2.42), (50.1, 2.45), (52.1, 2.36)],
    [(49.5, 1.56), (51.1, 1.58), (51.6, 1.76), (50.6, 1.93), (49.5, 1.85)],
    [(-56.9, 5.18), (-55.3, 4.73), (-52.7, 4.64), (-49.6, 4.78), (-46.5, 4.87), (-44.4, 5.0), (-41.8, 5.09),
     (-40.3, 5.5)],
    [(-16.4, 5.5), (-15.9, 5.05), (-13.3, 4.91), (-10.2, 4.93), (-9.1, 5.13), (-8.6, 5.5)],
    [(-13.3, 5.11), (-12.3, 4.89), (-10.7, 4.93), (-11.2, 5.16), (-13.3, 5.11)],
    [(54.2, 4.1), (54.7, 3.9), (55.7, 3.85), (56.2, 4.1)],
    [(51.1, 5.5), (51.6, 5.1), (52.6, 5.05), (53.2, 5.5)],
    [(-72.6, 4.0), (-71.4, 3.93), (-68.3, 4.02), (-66.2, 4.24), (-65.2, 4.5)],
]
D_DOTTED = [
    [(-77.1, 0.07), (-77.1, 1.22), (-76.8, 2.56), (-76.1, 3.36), (-74.6, 3.67)],
    [(-74.6, 0.07), (-74.6, 1.22), (-74.3, 2.56), (-73.5, 3.36), (-70.4, 3.71), (-67.3, 3.8)],
    [(-72.0, 0.07), (-71.6, 1.22), (-71.4, 2.56), (-70.4, 3.27), (-67.3, 3.58), (-65.7, 3.67)],
    [(-69.4, 0.07), (-68.8, 1.0), (-68.5, 2.11), (-68.3, 3.0), (-67.3, 3.27), (-65.2, 3.36)],
    [(-73.2, 0.9), (-73.0, 2.0), (-72.6, 2.9)],
    [(-75.8, 0.5), (-75.8, 1.6), (-75.3, 2.9)],
    [(-39.2, 0.16), (-38.2, 0.38), (-34.1, 0.47), (-28.9, 0.38), (-25.7, 0.33), (-21.6, 0.27), (-17.4, 0.16),
     (-15.4, 0.07)],
    [(-43.4, 0.69), (-39.2, 0.82), (-29.9, 0.8), (-21.6, 0.74), (-16.4, 0.6), (-14.3, 0.42), (-13.8, 0.24)],
    [(-42.9, 0.96), (-38.2, 1.05), (-32, 1.18), (-25.7, 1.22), (-19.5, 1.2), (-15.4, 1.13), (-14.3, 1.0)],
    [(-39.2, 0.02), (-34.1, 0.16), (-29.9, 0.2), (-23.7, 0.13), (-19.5, 0.04)],
    [(-5, 0.07), (-0.8, 0.2), (5.4, 0.29), (11.6, 0.38), (17.9, 0.47), (24.1, 0.51), (28.3, 0.42), (31.4, 0.33)],
    [(41.7, 0.31), (47, 0.27), (50.1, 0.13), (51.6, 0.05)],
    [(-7.1, 0.33), (-2.9, 0.56)],
    [(5.4, 0.76), (11.6, 0.8), (17.9, 0.78), (24.1, 0.71), (30.3, 0.67), (36.6, 0.67), (42.8, 0.6), (48, 0.42),
     (50.1, 0.29)],
    [(4.9, 1.09), (9.6, 1.05), (14.8, 1.06), (19.9, 1.06), (23.5, 1.0)],
    [(-10, 1.02), (-7.1, 1.07), (-4.5, 1.13)],
    [(-47.1, 2.56), (-44.4, 2.67), (-40.3, 2.73), (-35.1, 2.78), (-30.9, 2.77), (-26.8, 2.76), (-22.6, 2.8),
     (-19.5, 2.87), (-17.4, 3.0), (-16, 3.15)],
    [(-10.5, 3.1), (-7.6, 3.0), (-1.9, 2.96), (4.4, 3.0), (9.6, 3.06), (14.2, 3.16), (18.9, 3.29), (22, 3.47),
     (24.6, 3.67), (26.7, 3.89), (28.8, 4.16), (29.5, 4.41), (28.8, 4.58)],
    [(26.2, 4.82), (22, 4.91), (16.8, 4.93), (14.2, 4.82), (12.2, 4.67), (10.1, 4.56), (7.5, 4.62), (5.4, 4.73),
     (2.3, 4.69), (-0.8, 4.71), (-3.9, 4.76)],
    [(-42.9, 2.31), (-38.2, 2.4), (-32, 2.45), (-25.7, 2.47), (-19.5, 2.51), (-12.3, 2.55)],
    [(1.3, 2.49), (6.4, 2.51), (11.6, 2.56), (17.9, 2.64), (24.1, 2.71), (28.3, 2.87), (32.4, 3.05), (36.6, 3.2),
     (40.2, 3.4), (42.3, 3.67), (43.3, 3.93), (42.3, 4.25), (40.2, 4.51), (38.1, 4.78), (36.6, 4.96), (35.5, 5.09)],
    [(29.3, 5.29), (24.1, 5.33), (18.9, 5.33), (14.7, 5.29), (10.6, 5.18), (7.5, 5.07), (4.4, 5.07), (2.3, 5.13)],
    [(-23.7, 3.4), (-20.6, 3.51), (-16.4, 3.65), (-11.2, 3.67), (-5, 3.58), (0.2, 3.58), (3.3, 3.76), (4.4, 3.98)],
    [(0.2, 4.29), (-2.9, 4.38), (-9.1, 4.36), (-12.3, 4.31), (-17.4, 4.33), (-23.7, 4.43), (-29.9, 4.42),
     (-35.1, 4.33), (-37.4, 4.11), (-38.7, 3.8), (-40.3, 3.6)],
    [(-55, 3.98), (-51, 3.98), (-47.6, 4.07), (-44, 4.12), (-42, 4.05)],
    [(-59, 4.29), (-54.8, 4.38), (-50.7, 4.51), (-45.5, 4.65), (-40.3, 4.73), (-35.1, 4.8), (-32, 4.85)],
    [(-21.6, 4.87), (-17.4, 4.73), (-15.4, 4.6), (-11.2, 4.56), (-7.1, 4.6)],
    [(-60, 4.42), (-57.9, 4.78), (-54.8, 4.96), (-49.6, 5.09), (-42.4, 5.22), (-36.1, 5.29), (-28.9, 5.27),
     (-22.6, 5.16), (-18.5, 5.0), (-15.4, 4.82)],
]
D_LABELS = [
    ("\u221218", -68.3, 0.76), ("\u22126", 36.6, 0.31), ("\u22123", 0.7, 0.71), ("1", -44.4, 1.05),
    ("\u22121", 0.2, 1.22), ("0", 21, 1.38), ("0", 6.4, 2.07), ("1", -10.7, 1.87), ("0", 46.4, 1.6),
    ("0", 59.4, 2.73), ("\u22121", -4.5, 2.56), ("\u22123", -13.8, 3.27), ("\u22126", -29.4, 3.4),
    ("\u22126", 1.3, 4.16), ("0", -75.1, 3.84), ("\u22121", -58.5, 4.05), ("\u22123", 29.8, 4.69),
    ("\u22123", -26.8, 4.89), ("\u22121", -9.6, 4.78), ("\u22121", 32.9, 5.25), ("0", -59.5, 5.22),
]
D_ARROWS = [
    (-73, 1.93, 270), (-75.6, 2.56, 270), (-25.7, 0.33, 0), (-27.8, 0.78, 0), (-25.7, 1.21, 0),
    (-28.9, 1.56, 315), (-19.5, 2.02, 180), (-21.6, 2.29, 180), (23, 1.91, 190), (22, 0.51, 0),
    (10.6, 1.07, 0), (-26.8, 2.76, 180), (-20.6, 3.51, 135), (25.1, 3.67, 100), (41.2, 3.62, 95),
    (-47.6, 4.07, 0), (-29.9, 4.42, 0), (-34.1, 5.29, 0), (21, 5.33, 0),
]


# ---------------- drawing helpers ----------------
def style_axis(ax, tick_out=7, minor_out=4):
    ax.axis_line_width = 1.5
    ax.axis_line_color = "black"
    ax.major_tick_line_width = 1.3
    ax.minor_tick_line_width = 1.1
    ax.major_tick_in = 0
    ax.major_tick_out = tick_out
    ax.minor_tick_in = 0
    ax.minor_tick_out = minor_out
    ax.major_label_text_font = FONT
    ax.major_label_text_font_size = "23px"
    ax.major_label_text_color = "black"
    ax.axis_label_text_font = FONT
    ax.axis_label_text_font_size = "28px"
    ax.axis_label_text_font_style = "normal"
    ax.axis_label_text_color = "black"


def split(lines):
    return [[p[0] for p in ln] for ln in lines], [[p[1] for p in ln] for ln in lines]


def arrow_patches(arrows, kx, ky, length=21.0, half=5.0):
    xs, ys = [], []
    for lat, dep, ang in arrows:
        a = math.radians(ang)
        ux, uy = math.cos(a), math.sin(a)
        nx, ny = -uy, ux
        pts = [(length / 2 * ux, length / 2 * uy),
               (-length / 2 * ux + half * nx, -length / 2 * uy + half * ny),
               (-length / 2 * ux - half * nx, -length / 2 * uy - half * ny)]
        xs.append([lat + dx / kx for dx, dy in pts])
        ys.append([dep - dy / ky for dx, dy in pts])
    return xs, ys


def panel(letter, lat_range, ticks, tick_labels, land, edges, solid, dotted, labels, arrows,
          width, height, borders, ylabel):
    lb, rb, tb, bb = borders
    p = figure(width=width, height=height, x_range=Range1d(*lat_range), y_range=Range1d(5.5, 0.0),
               output_backend="svg", toolbar_location=None, min_border_left=lb, min_border_right=rb,
               min_border_top=tb, min_border_bottom=bb, background_fill_color="white",
               border_fill_color="white", title=letter)
    p.title.text_font = FONT
    p.title.text_font_size = "27px"
    p.title.text_font_style = "bold"
    p.title.text_color = "black"
    p.title.align = "left"
    p.title.offset = 12
    p.title.standoff = 9
    p.grid.visible = False
    p.outline_line_color = "black"
    p.outline_line_width = 1.5

    xa = p.xaxis[0]
    xa.ticker = FixedTicker(ticks=ticks, minor_ticks=LAT_MINOR)
    xa.major_label_overrides = {t: s for t, s in zip(ticks, tick_labels)}
    style_axis(xa, 8, 4)
    xa.major_label_standoff = 3
    xa.axis_label = "Latitude (degrees)"
    xa.axis_label_standoff = 9

    ya = p.yaxis[0]
    ya.ticker = FixedTicker(ticks=DEPTH_TICKS, minor_ticks=DEPTH_MINOR)
    style_axis(ya, 7, 5)
    ya.major_label_standoff = 7
    if ylabel:
        ya.axis_label = "Depth (km)"
        ya.axis_label_standoff = 18

    top = LinearAxis(ticker=FixedTicker(ticks=TOP_TICKS, minor_ticks=LAT_MINOR),
                     major_label_overrides={t: "" for t in TOP_TICKS})
    style_axis(top, 9, 6)
    top.major_label_text_font_size = "1px"
    top.major_label_standoff = 0
    p.add_layout(top, "above")

    right = LinearAxis(ticker=FixedTicker(ticks=DEPTH_RIGHT, minor_ticks=[]),
                       major_label_overrides={t: "" for t in DEPTH_RIGHT})
    style_axis(right, 6, 0)
    right.major_label_text_font_size = "1px"
    right.major_label_standoff = 0
    p.add_layout(right, "right")

    sx, sy = split(solid)
    p.multi_line(sx, sy, line_color="black", line_width=1.6)
    dx, dy = split(dotted)
    p.multi_line(dx, dy, line_color="black", line_width=1.9, line_dash="3 5")

    lx, ly = split(land)
    p.patches(lx, ly, fill_color="black", line_color="black", line_width=1)
    ex, ey = split(edges)
    p.multi_line(ex, ey, line_color="black", line_width=1.3)

    kx = (width - lb - rb) / (lat_range[1] - lat_range[0])
    ky = (height - tb - bb) / 5.5
    axs, ays = arrow_patches(arrows, kx, ky)
    p.patches(axs, ays, fill_color="black", line_color="black", line_width=0.5)

    src = ColumnDataSource(dict(x=[l[1] for l in labels], y=[l[2] for l in labels], t=[l[0] for l in labels]))
    p.add_layout(LabelSet(x="x", y="y", text="t", source=src, text_align="center", text_baseline="middle",
                          text_font=value(FONT), text_font_size=value("21px"), text_color="black",
                          background_fill_color="white", background_fill_alpha=1.0))
    return p


pa = panel("a", LAT_RANGE_AC, LAT_TICKS_AC, LAT_LABELS_AC, ATL_LAND, ATL_EDGES, A_SOLID, A_DOTTED,
           A_LABELS, A_ARROWS, 676, 556, (87, 30, 52, 91), True)
pb = panel("b", LAT_RANGE_BD, LAT_TICKS_BD, LAT_LABELS_BD, PAC_LAND, PAC_EDGES, B_SOLID, B_DOTTED,
           B_LABELS, B_ARROWS, 526, 556, (32, 9, 52, 91), False)
pc = panel("c", LAT_RANGE_AC, LAT_TICKS_AC, LAT_LABELS_AC, ATL_LAND, ATL_EDGES, C_SOLID, C_DOTTED,
           C_LABELS, C_ARROWS, 676, 587, (87, 30, 92, 82), True)
pd = panel("d", LAT_RANGE_BD, LAT_TICKS_BD, LAT_LABELS_BD, PAC_LAND, PAC_EDGES, D_SOLID, D_DOTTED,
           D_LABELS, D_ARROWS, 526, 587, (32, 9, 92, 82), False)

layout = column(row(pa, pb), row(pc, pd))
open("out.html", "w").write(file_html(layout, INLINE))
